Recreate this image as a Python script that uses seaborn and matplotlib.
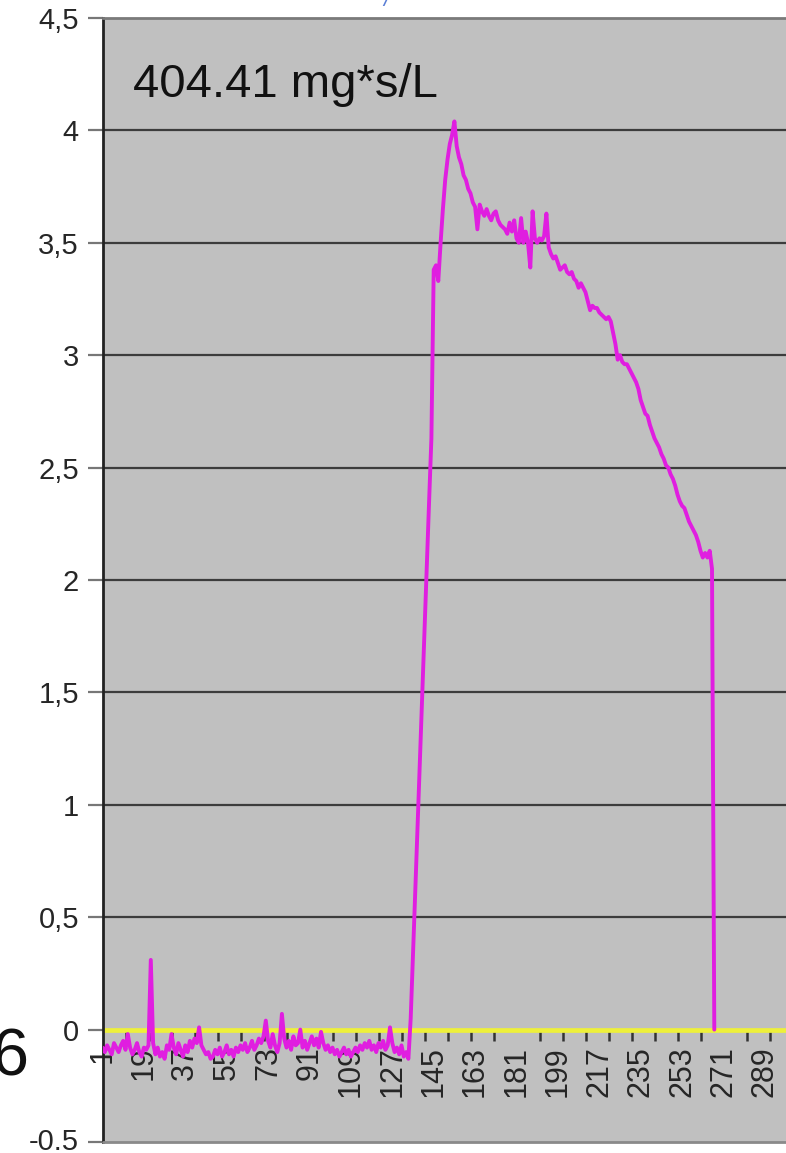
import numpy as np
import pandas as pd
import matplotlib
matplotlib.use("Agg")
import matplotlib.pyplot as plt
import matplotlib.transforms as mtransforms
import seaborn as sns

# ---- data ----
baseline_vals = [
    -0.08, -0.10, -0.07, -0.09, -0.11, -0.06, -0.08, -0.10, -0.07, -0.05,
    -0.09, -0.02, -0.08, -0.11, -0.09, -0.06, -0.10, -0.12, -0.08, -0.09, -0.07,
    0.31,
    -0.06, -0.11, -0.08, -0.12, -0.10, -0.13, -0.07, -0.09,
    -0.02, -0.08, -0.11, -0.06, -0.09, -0.12, -0.07, -0.10, -0.05, -0.08,
    -0.04, -0.06, 0.01, -0.07, -0.09, -0.11, -0.10, -0.13, -0.12, -0.09,
    -0.11, -0.08, -0.12, -0.10, -0.07, -0.11, -0.09, -0.12, -0.08, -0.10,
    -0.07, -0.09, -0.06, -0.10, -0.08, -0.05, -0.09, -0.07, -0.04, -0.06,
    -0.03, 0.04, -0.05, -0.08, -0.02, -0.07, -0.10, -0.06, 0.07, -0.04,
    -0.08, -0.05, -0.09, -0.03, -0.07, -0.06, 0.00, -0.08, -0.05, -0.09,
    -0.06, -0.03, -0.07, -0.04, -0.08, -0.01, -0.06, -0.09, -0.07, -0.10,
    -0.08, -0.11, -0.09, -0.12, -0.10, -0.08, -0.11, -0.09, -0.12, -0.10,
    -0.08, -0.10, -0.07, -0.09, -0.06, -0.08, -0.05, -0.09, -0.07, -0.10,
    -0.06, -0.08, -0.05, -0.09, -0.07, 0.01, -0.06, -0.10, -0.08, -0.11,
    -0.07, -0.12, -0.10, -0.13,
]
pulse_vals = [
    0.05, 0.33, 0.62, 0.91, 1.20, 1.48, 1.77, 2.06, 2.35, 2.63,   # 135-144
    3.38, 3.40, 3.33, 3.50, 3.65, 3.78, 3.87, 3.94, 3.98, 4.04,   # 145-154
    3.93, 3.88, 3.85, 3.80, 3.78, 3.74, 3.72, 3.68, 3.66, 3.56,   # 155-164
    3.67, 3.64, 3.62, 3.65, 3.62, 3.60, 3.63, 3.64, 3.60, 3.58,   # 165-174
    3.57, 3.56, 3.54, 3.59, 3.55, 3.60, 3.52, 3.50, 3.61, 3.50,   # 175-184
    3.55, 3.50, 3.39, 3.64, 3.52, 3.50, 3.52, 3.51, 3.53, 3.63,   # 185-194
    3.48, 3.45, 3.43, 3.44, 3.41, 3.38, 3.39, 3.40, 3.37, 3.36,   # 195-204
    3.37, 3.34, 3.33, 3.30, 3.32, 3.30, 3.28, 3.24, 3.20, 3.22,   # 205-214
    3.21, 3.21, 3.19, 3.18, 3.17, 3.16, 3.17, 3.15, 3.10, 3.05,   # 215-224
    2.98, 3.00, 2.97, 2.96, 2.96, 2.94, 2.92, 2.90, 2.88, 2.85,   # 225-234
    2.80, 2.77, 2.74, 2.73, 2.69, 2.66, 2.63, 2.61, 2.59, 2.56,   # 235-244
    2.54, 2.51, 2.50, 2.47, 2.45, 2.42, 2.38, 2.35, 2.33, 2.32,   # 245-254
    2.29, 2.26, 2.24, 2.22, 2.20, 2.17, 2.13, 2.10, 2.12, 2.10,   # 255-264
    2.13, 2.05, 0.00,                                             # 265-267
]
signal = baseline_vals + pulse_vals
n_categories = 300
zero_line = [0.0] * n_categories

ytick_values = [-0.5, 0, 0.5, 1, 1.5, 2, 2.5, 3, 3.5, 4, 4.5]
ytick_labels = ["-0.5", "0", "0,5", "1", "1,5", "2", "2,5", "3", "3,5", "4", "4,5"]
xtick_labels = list(range(1, 290, 18))
annotation_text = "404.41 mg*s/L"

# ---- figure ----
sns.set_theme(style="white")
plt.rcParams["font.family"] = ["Liberation Sans", "DejaVu Sans"]

W, H = 786, 1153
fig = plt.figure(figsize=(W / 100, H / 100), dpi=100)
left_px, right_px, top_px, bot_px = 102.5, 790.2, 18, 1142
ax = fig.add_axes([left_px / W, (H - bot_px) / H,
                   (right_px - left_px) / W, (bot_px - top_px) / H])
ax.set_facecolor("#c0c0c0")

df_sig = pd.DataFrame({"k": np.arange(1, len(signal) + 1), "v": signal})
df_zero = pd.DataFrame({"k": np.arange(1, n_categories + 1), "v": zero_line})

# grid lines
for yv in [0.5, 1, 1.5, 2, 2.5, 3, 3.5, 4]:
    ax.axhline(yv, color="#3c3c3c", lw=1.6, zorder=1)

sns.lineplot(data=df_zero, x="k", y="v", ax=ax, color="#eef03a", lw=3.4,
             zorder=2, estimator=None)
sns.lineplot(data=df_sig, x="k", y="v", ax=ax, color="#e01ee0", lw=2.8,
             zorder=3, estimator=None)

ax.set_xlim(1, n_categories)
ax.set_ylim(-0.5, 4.5)
ax.set_xlabel("")
ax.set_ylabel("")

# y axis
ax.set_yticks(ytick_values)
ax.set_yticklabels(ytick_labels, fontsize=21, color="#262626")
ax.tick_params(axis="y", direction="out", length=11, width=1.6,
               color="#777777", pad=6, left=True)
# nudge the bottom label up slightly so it stays inside the canvas
lab0 = ax.get_yticklabels()[0]
lab0.set_transform(lab0.get_transform() +
                   mtransforms.ScaledTranslation(0, 2.5 / 72, fig.dpi_scale_trans))

# x axis crossing at 0
ax.spines["bottom"].set_position(("data", 0))
ax.spines["bottom"].set_visible(False)
ax.set_xticks(xtick_labels)
ax.set_xticklabels([str(v) for v in xtick_labels], rotation=90,
                   fontsize=22, color="#262626", va="top", ha="center")
ax.set_xticks(list(range(1, n_categories + 1, 10)), minor=True)
ax.tick_params(axis="x", which="major", length=0, pad=12, bottom=True)
ax.tick_params(axis="x", which="minor", direction="out", length=8,
               width=1.8, color="#333333", bottom=True)

ax.spines["left"].set_color("#222222")
ax.spines["left"].set_linewidth(2)
ax.spines["top"].set_color("#7a7a7a")
ax.spines["top"].set_linewidth(2)
ax.spines["right"].set_visible(False)
ax.axhline(-0.5, color="#8a8a8a", lw=2, clip_on=False, zorder=4)

# overlaid texts
fig.text(133 / W, 1 - 97 / H, annotation_text, fontsize=34,
         color="#111111", ha="left", va="baseline")
fig.text(29 / W, 1 - 1075 / H, "6", fontsize=48, color="#111111",
         ha="right", va="baseline")
fig.text(386 / W, 1 - 6 / H, "/", fontsize=16, color="#5a7fd6",
         ha="center", va="baseline", style="italic")

fig.savefig("out.png", dpi=100)
